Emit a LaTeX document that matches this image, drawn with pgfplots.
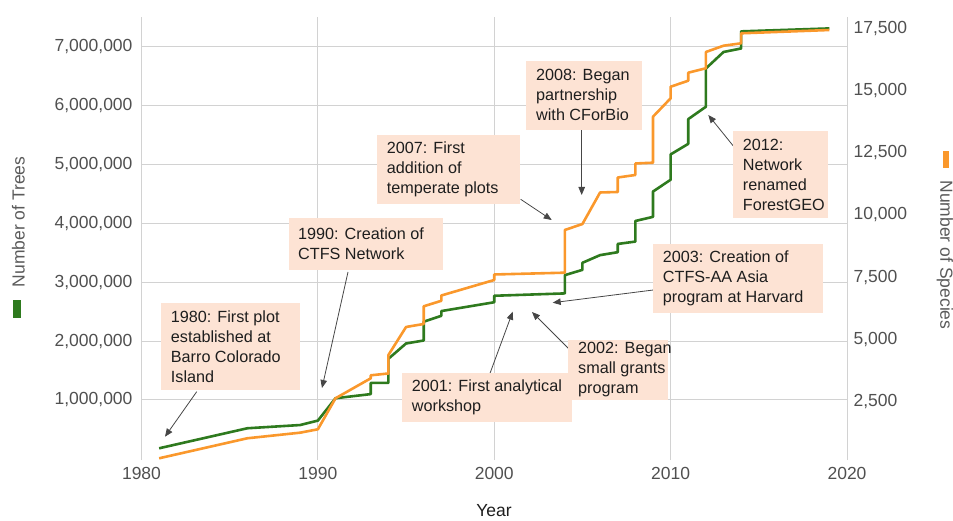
\documentclass[border=0pt]{standalone}
\usepackage{fontspec}
\setmainfont{Liberation Sans}
\usepackage{pgfplots}
\pgfplotsset{compat=1.18}
\usetikzlibrary{arrows.meta}
\definecolor{treegreen}{RGB}{46,122,30}
\definecolor{specorange}{RGB}{250,152,44}
\definecolor{gridgray}{RGB}{210,210,210}
\definecolor{ticktext}{RGB}{80,80,80}
\definecolor{titlegray}{RGB}{90,90,90}
\definecolor{peach}{RGB}{253,227,212}
\definecolor{annot}{RGB}{30,30,30}
\definecolor{arrowgray}{RGB}{70,70,70}
\newcommand{\annot}[6]{%
  \fill[peach] (#1,#2) rectangle (#3,#4);
  \node[anchor=west, inner sep=0pt, align=left, font=\fontsize{16.2}{20}\selectfont, text=annot] at (#5,{(#2+#4)/2}) {#6};
}
\newcommand{\arr}[4]{%
  \draw[arrowgray, line width=0.8pt, -{Triangle[length=8pt,width=6.5pt]}] (#1,#2) -- (#3,#4);
}
\begin{document}
\begin{tikzpicture}
\useasboundingbox (0,0) rectangle (953pt,520pt);
\pgfplotsset{common/.style={
  at={(141.5pt,60pt)}, anchor=south west, scale only axis,
  width=705.5pt, height=443pt, xmin=1980, xmax=2020,
  axis line style={draw=none}, major tick length=0pt,
  tick label style={font=\fontsize{17.5}{21}\selectfont, text=ticktext},
  /pgf/number format/assume math mode=true,
  scaled ticks=false, clip=false}}
\begin{axis}[common,
  ymin=-19000, ymax=7504000,
  xtick={1980,1990,2000,2010,2020},
  ytick={1000000,2000000,3000000,4000000,5000000,6000000,7000000},
  xticklabel style={yshift=-4pt, /pgf/number format/1000 sep={}},
  yticklabel style={xshift=-5.5pt, /pgf/number format/fixed, /pgf/number format/precision=0, /pgf/number format/1000 sep={,}},
  grid=major, major grid style={gridgray, line width=1pt}]
\addplot[treegreen, line width=2.6pt, line join=round] coordinates {
(1981,180000) (1986,520000) (1989,575000) (1990,650000) (1991,1030000)
(1993,1100000) (1993,1290000) (1994,1290000) (1994,1700000) (1995,1960000)
(1996,2010000) (1996,2330000) (1997,2430000) (1997,2510000) (2000,2660000)
(2000,2770000) (2004,2810000) (2004,3120000) (2005,3210000) (2005,3330000)
(2006,3460000) (2007,3510000) (2007,3650000) (2008,3690000) (2008,4040000)
(2009,4110000) (2009,4540000) (2010,4740000) (2010,5170000) (2011,5350000)
(2011,5770000) (2012,5980000) (2012,6630000) (2013,6910000) (2014,6970000)
(2014,7260000) (2019,7310000)};
\end{axis}
\begin{axis}[common,
  ymin=157, ymax=17954,
  axis x line=none, axis y line*=right,
  ytick={2500,5000,7500,10000,12500,15000,17500},
  yticklabel style={xshift=3pt, /pgf/number format/fixed, /pgf/number format/precision=0, /pgf/number format/1000 sep={,}}]
\addplot[specorange, line width=2.6pt, line join=round] coordinates {
(1981,226) (1986,1030) (1989,1255) (1990,1391) (1991,2637)
(1993,3440) (1993,3560) (1994,3633) (1994,4376) (1995,5501)
(1996,5621) (1996,6332) (1997,6553) (1997,6766) (2000,7389)
(2000,7610) (2004,7682) (2004,9397) (2005,9638) (2006,10904)
(2007,10924) (2007,11506) (2008,11607) (2008,12069) (2009,12101)
(2009,13949) (2010,14687) (2010,15153) (2011,15395) (2011,15716)
(2012,15893) (2012,16548) (2013,16801) (2014,16897) (2014,17299)
(2019,17431)};
\end{axis}
\begin{scope}[shift={(0pt,520pt)}, x=1pt, y=-1pt]
\arr{196.7}{391.7}{165}{436.7}
\arr{348}{272}{322}{388}
\arr{490}{373.3}{512.7}{311.7}
\arr{580}{360}{532}{312}
\arr{653.3}{290}{552.7}{302.7}
\arr{520.7}{199.3}{551.7}{220}
\arr{581.7}{130}{581.7}{195}
\arr{733.3}{146}{708.3}{115}
\annot{161}{302.7}{300}{390}{170.7}{1980: First plot\\established at\\Barro Colorado\\Island}
\annot{289}{218}{443}{270}{298}{1990: Creation of\\CTFS Network}
\annot{401.7}{373.3}{571.7}{421.7}{411.7}{2001: First analytical\\workshop}
\annot{568}{340}{668}{400}{578}{2002: Began\\small grants\\program}
\annot{653.3}{244}{823.3}{312.7}{662.7}{2003: Creation of\\CTFS-AA Asia\\program at Harvard}
\annot{376.7}{135}{520}{204}{386.7}{2007: First\\addition of\\temperate plots}
\annot{526}{60.7}{641.7}{130}{536}{2008: Began\\partnership\\with CForBio}
\annot{733.3}{130.7}{828.3}{218.3}{742.7}{2012:\\Network\\renamed\\ForestGEO}
\node[rotate=90, font=\fontsize{17.5}{21}\selectfont, text=titlegray] at (18.3,222) {Number of Trees};
\fill[treegreen] (13.3,300) rectangle (20.7,318.3);
\node[rotate=-90, font=\fontsize{17.5}{21}\selectfont, text=titlegray] at (945,255) {Number of Species};
\fill[specorange] (942.7,150.7) rectangle (949,168.3);
\node[font=\fontsize{17.5}{21}\selectfont, text=annot] at (494,511) {Year};
\end{scope}
\end{tikzpicture}
\end{document}
